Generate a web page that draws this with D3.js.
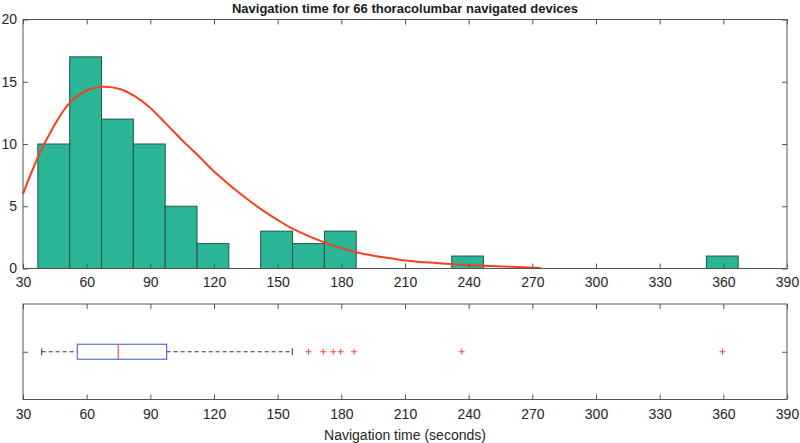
<!DOCTYPE html>
<html>
<head>
<meta charset="utf-8">
<script src="https://cdn.jsdelivr.net/npm/d3@7.9.0/dist/d3.min.js"></script>
<style>
  body { margin: 0; background: #fff; }
  svg { display: block; font-family: "Liberation Sans", Arial, sans-serif; }
  .axis path { display: none; }
  .axis line { stroke: #555; }
  .axis text { fill: #262626; font-size: 14px; }
</style>
</head>
<body>
<div id="chart"></div>
<script>
// histogram: bin edges (seconds) and counts
const binEdges = [37, 52, 67, 82, 97, 112, 127, 142, 157, 172, 187, 202, 217, 232, 247,
  262, 277, 292, 307, 322, 337, 352, 367];
const binCounts = [10, 17, 12, 10, 5, 2, 0, 3, 2, 3, 0, 0, 0, 1, 0, 0, 0, 0, 0, 0, 0, 1];

// fitted curve
const fitX = [30, 40, 52, 60, 68, 76, 83, 90, 97, 105, 113, 120, 137, 150, 157, 172, 187, 200, 210, 233, 250, 274];
const fitY = [6.0, 10.0, 13.3, 14.3, 14.6, 14.4, 13.8, 12.9, 11.7, 10.3, 9.0, 7.8, 5.4, 3.9, 3.2, 2.1, 1.3, 0.9, 0.65, 0.35, 0.2, 0.05];

// box plot summary
const whiskerLow = 38.8;
const q1 = 55.6;
const median = 74.9;
const q3 = 97.7;
const whiskerHigh = 156.9;
const outliers = [164.5, 171.5, 176.2, 179.7, 186, 236.7, 359.6];

const xTicks = d3.range(30, 391, 30);
const yTicks = [0, 5, 10, 15, 20];

const width = 800;
const height = 443;
const left = 23, right = 787;
const top1 = { top: 19.5, bottom: 268.5 };
const box2 = { top: 304, bottom: 399.5 };

const svg = d3.select('#chart').append('svg')
  .attr('width', width)
  .attr('height', height);

const x = d3.scaleLinear().domain([30, 390]).range([left, right]);
const y = d3.scaleLinear().domain([0, 20]).range([top1.bottom, top1.top]);

// title
svg.append('text')
  .attr('x', (left + right) / 2)
  .attr('y', 13)
  .attr('text-anchor', 'middle')
  .style('font-size', '13px')
  .style('font-weight', 'bold')
  .attr('fill', '#1a1a1a')
  .text('Navigation time for 66 thoracolumbar navigated devices');

// ---- histogram panel ----
const bins = binCounts.map((c, i) => ({ x0: binEdges[i], x1: binEdges[i + 1], count: c }))
  .filter(d => d.count > 0);

svg.append('g')
  .selectAll('rect')
  .data(bins)
  .join('rect')
  .attr('x', d => x(d.x0))
  .attr('y', d => y(d.count))
  .attr('width', d => x(d.x1) - x(d.x0))
  .attr('height', d => y(0) - y(d.count))
  .attr('fill', '#2bb597')
  .attr('stroke', '#24544a')
  .attr('stroke-width', 1);

const fit = fitX.map((v, i) => [v, fitY[i]]);
svg.append('path')
  .datum(fit)
  .attr('fill', 'none')
  .attr('stroke', '#f4401c')
  .attr('stroke-width', 2)
  .attr('d', d3.line().x(d => x(d[0])).y(d => y(d[1])).curve(d3.curveCatmullRom.alpha(0.5)));

// axes (ticks inward)
svg.append('g').attr('class', 'axis')
  .attr('transform', `translate(0,${top1.bottom})`)
  .call(d3.axisBottom(x).tickValues(xTicks).tickSizeInner(-5).tickSizeOuter(0).tickPadding(9));
svg.append('g').attr('class', 'axis')
  .attr('transform', `translate(0,${top1.top})`)
  .call(d3.axisTop(x).tickValues(xTicks).tickSizeInner(-5).tickSizeOuter(0).tickFormat(''));
svg.append('g').attr('class', 'axis')
  .attr('transform', `translate(${left},0)`)
  .call(d3.axisLeft(y).tickValues(yTicks).tickSizeInner(-5).tickSizeOuter(0).tickPadding(6));
svg.append('g').attr('class', 'axis')
  .attr('transform', `translate(${right},0)`)
  .call(d3.axisRight(y).tickValues(yTicks).tickSizeInner(-5).tickSizeOuter(0).tickFormat(''));

svg.append('rect')
  .attr('x', left).attr('y', top1.top)
  .attr('width', right - left).attr('height', top1.bottom - top1.top)
  .attr('fill', 'none').attr('stroke', '#555').attr('stroke-width', 1);

// ---- box plot panel ----
const yb = d3.scalePoint().domain(['a']).range([box2.bottom, box2.top]).padding(0.5);
const cy = yb('a');
const boxH = 15;

const bp = svg.append('g');
bp.append('line')
  .attr('x1', x(whiskerLow)).attr('x2', x(q1)).attr('y1', cy).attr('y2', cy)
  .attr('stroke', '#333').attr('stroke-dasharray', '4,3');
bp.append('line')
  .attr('x1', x(q3)).attr('x2', x(whiskerHigh)).attr('y1', cy).attr('y2', cy)
  .attr('stroke', '#333').attr('stroke-dasharray', '4,3');
[whiskerLow, whiskerHigh].forEach(v => {
  bp.append('line')
    .attr('x1', x(v)).attr('x2', x(v)).attr('y1', cy - 3.5).attr('y2', cy + 3.5)
    .attr('stroke', '#333');
});
bp.append('rect')
  .attr('x', x(q1)).attr('y', cy - boxH / 2)
  .attr('width', x(q3) - x(q1)).attr('height', boxH)
  .attr('fill', 'none').attr('stroke', '#5a6fd8').attr('stroke-width', 1.2);
bp.append('line')
  .attr('x1', x(median)).attr('x2', x(median)).attr('y1', cy - boxH / 2).attr('y2', cy + boxH / 2)
  .attr('stroke', '#f05a30').attr('stroke-width', 1.2);
bp.append('g')
  .selectAll('path')
  .data(outliers)
  .join('path')
  .attr('d', d => `M${x(d) - 3},${cy}H${x(d) + 3}M${x(d)},${cy - 3}V${cy + 3}`)
  .attr('stroke', '#f04a3a')
  .attr('stroke-width', 1);

svg.append('g').attr('class', 'axis')
  .attr('transform', `translate(0,${box2.bottom})`)
  .call(d3.axisBottom(x).tickValues(xTicks).tickSizeInner(-5).tickSizeOuter(0).tickPadding(10));
svg.append('g').attr('class', 'axis')
  .attr('transform', `translate(0,${box2.top})`)
  .call(d3.axisTop(x).tickValues(xTicks).tickSizeInner(-5).tickSizeOuter(0).tickFormat(''));
svg.append('g').attr('class', 'axis')
  .attr('transform', `translate(${left},0)`)
  .call(d3.axisLeft(yb).tickSizeInner(-5).tickSizeOuter(0).tickFormat(''));
svg.append('g').attr('class', 'axis')
  .attr('transform', `translate(${right},0)`)
  .call(d3.axisRight(yb).tickSizeInner(-5).tickSizeOuter(0).tickFormat(''));

svg.append('rect')
  .attr('x', left).attr('y', box2.top)
  .attr('width', right - left).attr('height', box2.bottom - box2.top)
  .attr('fill', 'none').attr('stroke', '#555').attr('stroke-width', 1);

svg.append('text')
  .attr('x', (left + right) / 2)
  .attr('y', 440)
  .attr('text-anchor', 'middle')
  .style('font-size', '14px')
  .attr('fill', '#262626')
  .text('Navigation time (seconds)');
</script>
</body>
</html>
